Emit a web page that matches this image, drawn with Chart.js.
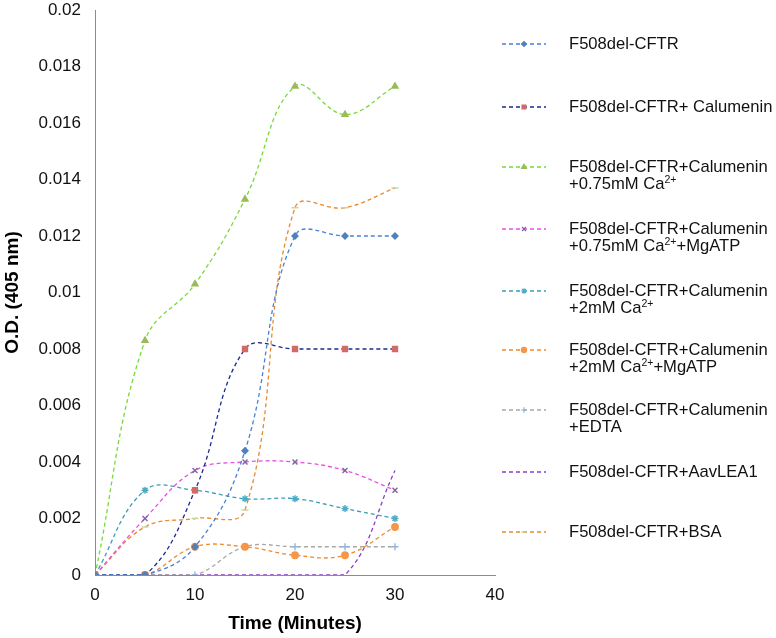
<!DOCTYPE html>
<html lang="en">
<head>
  <meta charset="UTF-8" />
  <title>O.D. (405 nm) over time</title>
  <script src="https://cdn.jsdelivr.net/npm/chart.js"></script>
  <style>
    body { margin: 0; background: #fff; }
    #wrap { position: relative; width: 776px; height: 638px; font-family: "Liberation Sans", Arial, sans-serif; }
    #legend { position: absolute; left: 0; top: 0; width: 776px; height: 638px; pointer-events: none; }
    .item { position: absolute; left: 569px; font-size: 16.6px; line-height: 17px; color: #111; white-space: nowrap; }
    .item sup { font-size: 10.5px; line-height: 0; vertical-align: 6px; }
  </style>
</head>
<body>
  <div id="wrap">
    <canvas id="odChart" width="776" height="638"></canvas>
    <div id="legend"></div>
  </div>

  <script>
    // time points (minutes)
    const timeMin = [0, 5, 10, 15, 20, 25, 30];

    // O.D. values per sample
    const odCftr        = [0, 0, 0.001, 0.0044, 0.012, 0.012, 0.012];
    const odCalu        = [0, 0, 0.003, 0.008, 0.008, 0.008, 0.008];
    const odCa075       = [0, 0.0083, 0.0103, 0.0133, 0.0173, 0.0163, 0.0173];
    const odCa075Atp    = [0, 0.002, 0.0037, 0.004, 0.004, 0.0037, 0.003];
    const odCa2         = [0, 0.003, 0.003, 0.0027, 0.0027, 0.00235, 0.002];
    const odCa2Atp      = [0, 0, 0.001, 0.001, 0.0007, 0.0007, 0.0017];
    const odEdta        = [0, 0, 0, 0.001, 0.001, 0.001, 0.001];
    const odLea1        = [0, 0, 0, 0, 0, 0, 0.0037];
    const odBsa         = [0, 0.0017, 0.002, 0.0023, 0.013, 0.013, 0.0137];

    const seriesNames = [
      "F508del-CFTR",
      "F508del-CFTR+ Calumenin",
      "F508del-CFTR+Calumenin\n+0.75mM Ca2+",
      "F508del-CFTR+Calumenin\n+0.75mM Ca2++MgATP",
      "F508del-CFTR+Calumenin\n+2mM Ca2+",
      "F508del-CFTR+Calumenin\n+2mM Ca2++MgATP",
      "F508del-CFTR+Calumenin\n+EDTA",
      "F508del-CFTR+AavLEA1",
      "F508del-CFTR+BSA"
    ];
    const seriesValues = [odCftr, odCalu, odCa075, odCa075Atp, odCa2, odCa2Atp, odEdta, odLea1, odBsa];

    // line colour, marker style, marker colour
    const styles = [
      { line: "#4a80d6", pt: "rectRot", pc: "#4f81bd", r: 3 },
      { line: "#1b2a8c", pt: "rect",    pc: "#d26a66", r: 3.5 },
      { line: "#76d93a", pt: "triangle",pc: "#9bbb59", r: 3.5 },
      { line: "#e650e6", pt: "crossRot",pc: "#8064a2", r: 3.5 },
      { line: "#3a9db5", pt: "star",    pc: "#4bacc6", r: 3.5 },
      { line: "#ee8a2a", pt: "circle",  pc: "#f79646", r: 3.2 },
      { line: "#a8a8a8", pt: "cross",   pc: "#95b3d7", r: 3.5 },
      { line: "#8a3fc8", pt: "circle",  pc: "#8a3fc8", r: 0 },
      { line: "#e88a2e", pt: "line",    pc: "#c3d69b", r: 3.5 }
    ];

    const datasets = seriesValues.map((vals, i) => ({
      label: seriesNames[i].replace("\n", " "),
      data: vals.map((v, j) => ({ x: timeMin[j], y: v })),
      showLine: true,
      borderColor: styles[i].line,
      borderWidth: 1.3,
      borderDash: [4, 3],
      tension: 0.4,
      pointStyle: styles[i].pt,
      pointRadius: styles[i].r,
      pointBackgroundColor: styles[i].pc,
      pointBorderColor: styles[i].pc,
      pointBorderWidth: 1.4
    }));

    // legend row centres (first text line), layout only
    const legendY = [44, 107, 167, 229, 291, 350, 410, 472, 532];

    const legendSamples = {
      id: "legendSamples",
      afterDraw(chart) {
        const ctx = chart.ctx;
        chart.data.datasets.forEach((ds, i) => {
          const y = legendY[i];
          ctx.save();
          ctx.strokeStyle = ds.borderColor;
          ctx.lineWidth = ds.borderWidth;
          ctx.setLineDash(ds.borderDash);
          ctx.beginPath();
          ctx.moveTo(502, y);
          ctx.lineTo(546, y);
          ctx.stroke();
          ctx.restore();
          if (ds.pointRadius > 0 && Chart.helpers && Chart.helpers.drawPoint) {
            ctx.save();
            ctx.fillStyle = ds.pointBackgroundColor;
            ctx.strokeStyle = ds.pointBorderColor;
            ctx.lineWidth = 1.2;
            Chart.helpers.drawPoint(ctx, { pointStyle: ds.pointStyle, radius: ds.pointRadius * 0.8, rotation: 0, borderWidth: 1.2 }, 524, y);
            ctx.restore();
          }
        });
      }
    };

    const legendDiv = document.getElementById("legend");
    seriesNames.forEach((name, i) => {
      const div = document.createElement("div");
      div.className = "item";
      div.style.top = (legendY[i] - 9) + "px";
      div.innerHTML = name.replace(/Ca2\+/g, "Ca<sup>2+</sup>").replace("\n", "<br>");
      legendDiv.appendChild(div);
    });

    const fontFamily = '"Liberation Sans", Arial, sans-serif';

    new Chart(document.getElementById("odChart"), {
      type: "scatter",
      data: { datasets: datasets },
      options: {
        responsive: false,
        animation: false,
        devicePixelRatio: 1,
        layout: { padding: { top: 0, right: 281, bottom: 0, left: 0 } },
        plugins: { legend: { display: false }, tooltip: { enabled: false } },
        scales: {
          x: {
            type: "linear",
            min: 0, max: 40,
            grid: { display: false, drawTicks: false },
            border: { display: true, color: "#8c8c8c", width: 1 },
            ticks: { stepSize: 10, padding: 10, color: "#111", font: { family: fontFamily, size: 17 } },
            title: { display: true, text: "Time (Minutes)", color: "#000", padding: { top: 0, bottom: 3 },
                     font: { family: fontFamily, size: 19, weight: "bold" } },
            afterFit(scale) { scale.height = 63; }
          },
          y: {
            min: 0, max: 0.02,
            grid: { display: false, drawTicks: false },
            border: { display: true, color: "#8c8c8c", width: 1 },
            ticks: {
              stepSize: 0.002, padding: 14, color: "#111",
              font: { family: fontFamily, size: 17 },
              callback: v => String(Number(v.toFixed(4)))
            },
            title: { display: true, text: "O.D. (405 nm)", color: "#000", padding: { top: 1, bottom: 0 },
                     font: { family: fontFamily, size: 19, weight: "bold" } },
            afterFit(scale) { scale.width = 95; scale.paddingTop = 10; scale.paddingBottom = 0; }
          }
        }
      },
      plugins: [legendSamples]
    });
  </script>
</body>
</html>
